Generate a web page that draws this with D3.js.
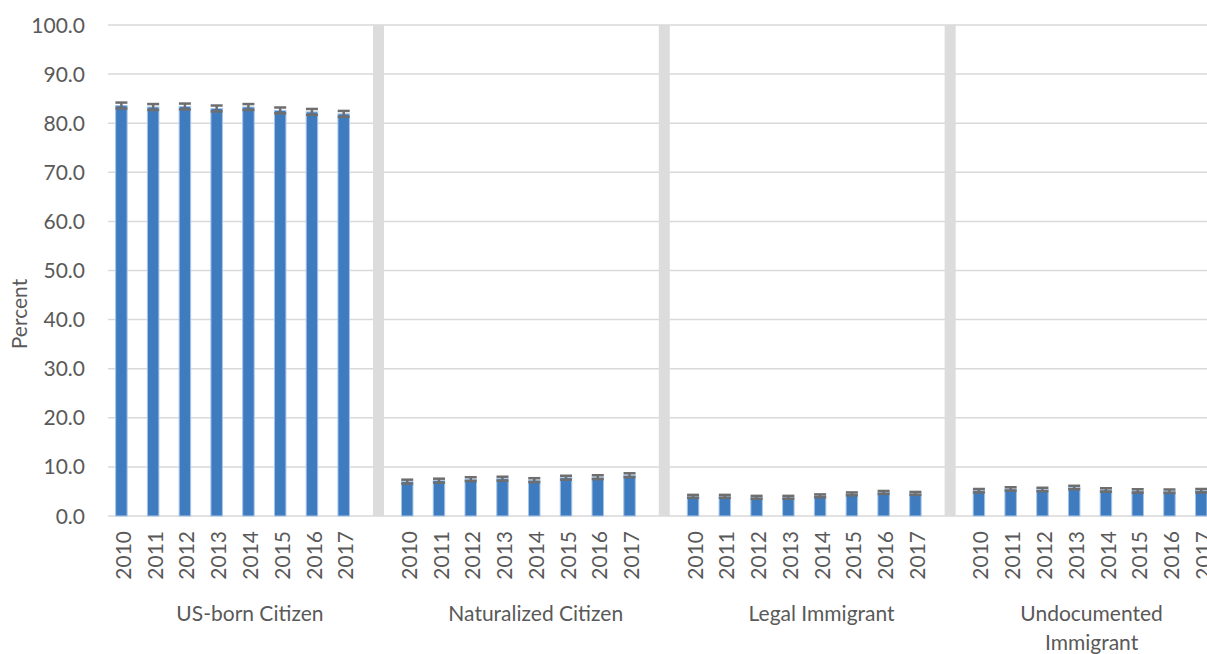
<!DOCTYPE html>
<html>
<head>
<meta charset="utf-8">
<script src="https://cdn.jsdelivr.net/npm/d3@7"></script>
<style>
	html, body { margin: 0; padding: 0; background: #fff; }
	#app { width: 1207px; height: 654px; overflow: hidden; }
	text { font-family: Lato, "Open Sans", sans-serif; fill: #595959; }
</style>
</head>
<body>
<div id="app"></div>
<script>
const years = ["2010", "2011", "2012", "2013", "2014", "2015", "2016", "2017"];
const groupLabels = [["US-born Citizen"], ["Naturalized Citizen"], ["Legal Immigrant"], ["Undocumented", "Immigrant"]];

// percent, by year
const usBorn = [83.6, 83.3, 83.4, 83.0, 83.3, 82.6, 82.3, 81.9];
const naturalized = [7.0, 7.2, 7.5, 7.6, 7.3, 7.8, 7.9, 8.3];
const legal = [4.0, 4.0, 3.8, 3.8, 4.1, 4.5, 4.8, 4.6];
const undocumented = [5.15, 5.5, 5.4, 5.8, 5.3, 5.1, 5.05, 5.15];

// error bar half widths
const usBornErr = [0.6, 0.6, 0.6, 0.6, 0.6, 0.6, 0.6, 0.6];
const naturalizedErr = [0.4, 0.4, 0.4, 0.4, 0.4, 0.4, 0.4, 0.4];
const legalErr = [0.3, 0.3, 0.3, 0.3, 0.3, 0.3, 0.3, 0.3];
const undocumentedErr = [0.35, 0.35, 0.35, 0.35, 0.35, 0.35, 0.35, 0.35];

const yTicks = [0, 10, 20, 30, 40, 50, 60, 70, 80, 90, 100];

const series = [usBorn, naturalized, legal, undocumented];
const errors = [usBornErr, naturalizedErr, legalErr, undocumentedErr];

const W = 1207, H = 654;
const plotLeft = 107, plotTop = 25, plotBottom = 516;
const slotW = 31.76;
const fontSize = "21px";

// slots: 8 years per group, a blank separator slot between groups
let slots = [];
series.forEach(function(vals, g){
	years.forEach(function(yr, i){
		slots.push({key: g + "-" + yr, year: yr, g: g, value: vals[i], err: errors[g][i]});
	});
	if(g < series.length - 1){
		slots.push({key: "sep-" + g, sep: true, g: g});
	}
});

const x = d3.scaleBand()
	.domain(slots.map(d => d.key))
	.range([plotLeft, plotLeft + slots.length * slotW]);
const y = d3.scaleLinear().domain([0, 100]).range([plotBottom, plotTop]);

const svg = d3.select("#app").append("svg")
	.attr("width", W)
	.attr("height", H);

// gridlines
svg.append("g").selectAll("line").data(yTicks).enter().append("line")
	.attr("x1", 108).attr("x2", W)
	.attr("y1", d => y(d)).attr("y2", d => y(d))
	.attr("stroke", "#d9d9d9")
	.attr("stroke-width", 1.5);

// y tick labels
svg.append("g").selectAll("text").data(yTicks).enter().append("text")
	.attr("x", 85)
	.attr("y", d => y(d))
	.attr("dy", "0.36em")
	.attr("text-anchor", "end")
	.style("font-size", fontSize)
	.text(d => d.toFixed(1));

// axis title
svg.append("text")
	.attr("transform", "translate(27,314) rotate(-90)")
	.attr("text-anchor", "middle")
	.style("font-size", fontSize)
	.text("Percent");

const center = d => x(d.key) + x.bandwidth() / 2;

// separators
svg.append("g").selectAll("rect").data(slots.filter(d => d.sep)).enter().append("rect")
	.attr("x", d => center(d) + 1.5 - 5.5)
	.attr("width", 11)
	.attr("y", y(100))
	.attr("height", y(0) - y(100))
	.attr("fill", "#dcdcdc");

const data = slots.filter(d => !d.sep);

// bars
svg.append("g").selectAll("rect").data(data).enter().append("rect")
	.attr("x", d => center(d) - 1.5 - 5.75)
	.attr("width", 11.5)
	.attr("y", d => y(d.value))
	.attr("height", d => y(0) - y(d.value))
	.attr("fill", "#3f7cbf")
	.attr("stroke", "#a7c5e8")
	.attr("stroke-width", 1);

// error bars
const eb = svg.append("g")
	.attr("stroke", "#6e6e6e")
	.attr("stroke-width", 2.5);
data.forEach(function(d){
	let cx = center(d) - 1.5;
	eb.append("line")
		.attr("x1", cx).attr("x2", cx)
		.attr("y1", y(d.value - d.err)).attr("y2", y(d.value + d.err));
	[d.value - d.err, d.value + d.err].forEach(function(v){
		eb.append("line")
			.attr("x1", cx - 6).attr("x2", cx + 6)
			.attr("y1", y(v)).attr("y2", y(v));
	});
});

// year labels
svg.append("g").selectAll("text").data(data).enter().append("text")
	.attr("transform", d => "translate(" + (center(d) + 0.5) + ",531) rotate(-90)")
	.attr("text-anchor", "end")
	.attr("dy", "0.36em")
	.style("font-size", fontSize)
	.text(d => d.year);

// group labels
groupLabels.forEach(function(lines, g){
	let gs = slots.filter(d => d.g === g);
	let x0 = x(gs[0].key), x1 = x(gs[gs.length - 1].key) + x.bandwidth();
	let t = svg.append("text")
		.attr("text-anchor", "middle")
		.style("font-size", fontSize);
	lines.forEach(function(l, i){
		t.append("tspan")
			.attr("x", (x0 + x1) / 2)
			.attr("y", 621 + i * 29)
			.text(l);
	});
});
</script>
</body>
</html>
